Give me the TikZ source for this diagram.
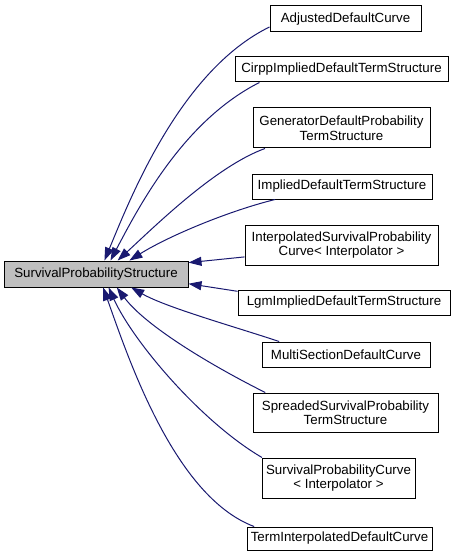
\documentclass[tikz,border=0pt]{standalone}
\usepackage{fontspec}
\setmainfont{Liberation Sans}
\usepackage{xcolor}
\usetikzlibrary{arrows.meta}
\definecolor{inheritblue}{HTML}{191970}

\begin{document}
\begin{tikzpicture}[x=1pt, y=-1pt,
    classbox/.style={draw=black, line width=1pt, fill=white, inner sep=0pt, align=center,
        font=\fontsize{13.3}{14.5}\selectfont},
    basebox/.style={classbox, fill=black!25},
    inherit/.style={draw=inheritblue, line width=1pt, -{Triangle[length=13pt,width=9pt]}}]
    \useasboundingbox (0,0) rectangle (460,556);

    % Base class
    \node [basebox, minimum width=184pt, minimum height=26pt] (ssp) at (96,274) {SurvivalProbabilityStructure};

    % Derived classes
    \node [classbox, minimum width=151pt, minimum height=26pt] (adj) at (345.5,19) {AdjustedDefaultCurve};
    \node [classbox, minimum width=213pt, minimum height=25pt] (cirpp) at (341.5,69.5) {CirppImpliedDefaultTermStructure};
    \node [classbox, minimum width=177pt, minimum height=40pt] (gen) at (341.5,128) {GeneratorDefaultProbability\\TermStructure};
    \node [classbox, minimum width=180pt, minimum height=25pt] (impl) at (342,186.5) {ImpliedDefaultTermStructure};
    \node [classbox, minimum width=193pt, minimum height=40pt] (interp) at (341.5,245) {InterpolatedSurvivalProbability\\Curve< Interpolator >};
    \node [classbox, minimum width=212pt, minimum height=25pt] (lgm) at (344,302.5) {LgmImpliedDefaultTermStructure};
    \node [classbox, minimum width=168pt, minimum height=25pt] (multi) at (346,354.5) {MultiSectionDefaultCurve};
    \node [classbox, minimum width=185pt, minimum height=39pt] (spread) at (345.5,412.5) {SpreadedSurvivalProbability\\TermStructure};
    \node [classbox, minimum width=153pt, minimum height=40pt] (spc) at (338.5,478) {SurvivalProbabilityCurve\\< Interpolator >};
    \node [classbox, minimum width=185pt, minimum height=23pt] (term) at (339.5,538.5) {TermInterpolatedDefaultCurve};

    % Inheritance arrows, upper half
    \draw [inherit] (adj.186) .. controls +(-90,44) and +(25,-60) .. (ssp.58);
    \draw [inherit] (cirpp.189) .. controls +(-75,38) and +(30,-57) .. (ssp.43);
    \draw [inherit] (gen.195) .. controls +(-50,18) and +(35,-32) .. (ssp.32);
    \draw [inherit] (impl.191) .. controls +(-45,11) and +(40,-25) .. (ssp.22);
    \draw [inherit] (interp.187) -- (ssp.7);

    % Inheritance arrows, lower half
    \draw [inherit] (lgm.174) -- (ssp.-6);
    \draw [inherit] (multi.169) .. controls +(-45,-15) and +(35,20) .. (ssp.-21);
    \draw [inherit] (spread.166) .. controls +(-50,-25) and +(30,40) .. (ssp.-33);
    \draw [inherit] (spc.165) .. controls +(-60,-35) and +(25,55) .. (ssp.-47);
    \draw [inherit] (term.172) .. controls +(-80,-30) and +(25,70) .. (ssp.-62);
\end{tikzpicture}
\end{document}
